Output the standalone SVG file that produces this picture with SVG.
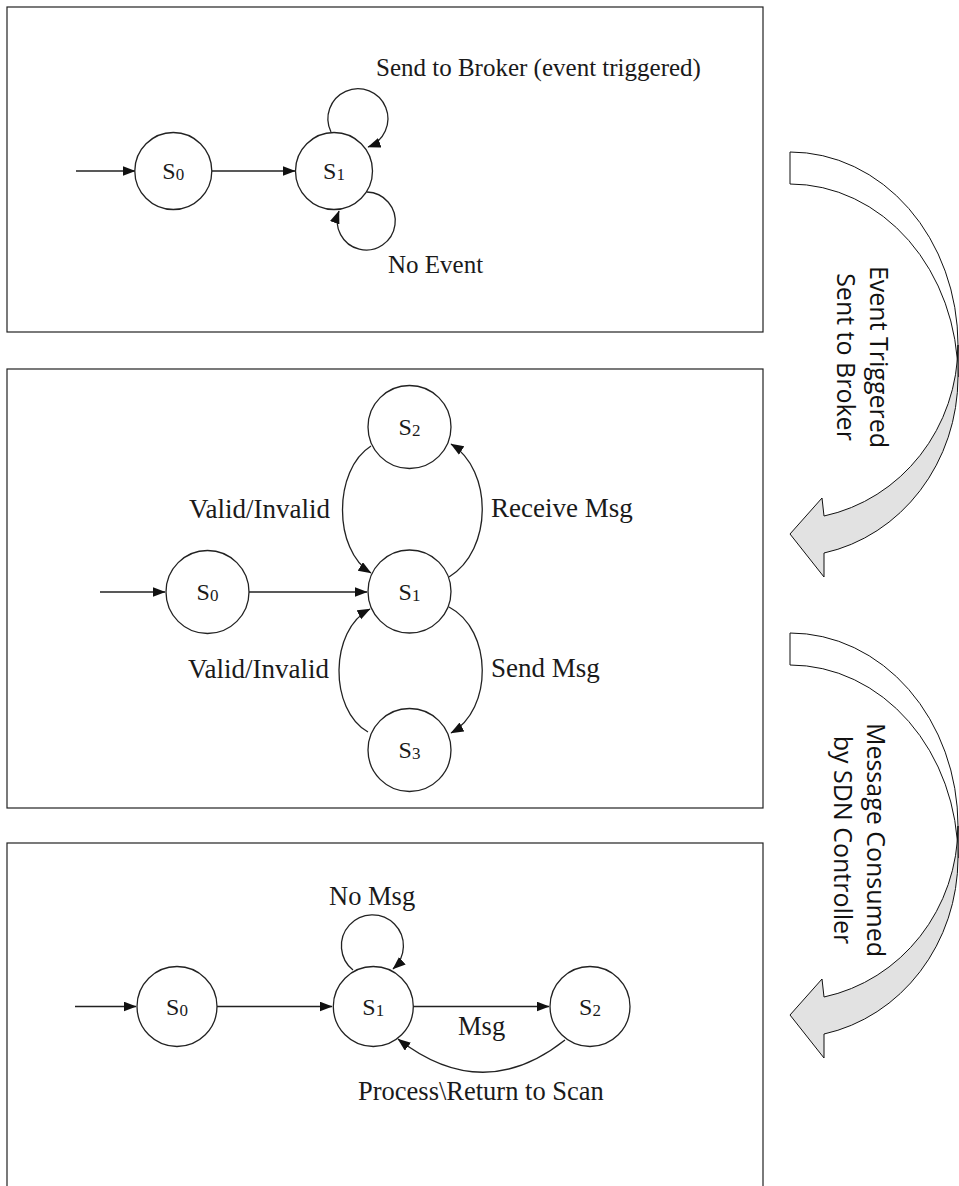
<svg xmlns="http://www.w3.org/2000/svg" width="959" height="1186" viewBox="0 0 959 1186">
<style>
.panel{fill:none;stroke:#222;stroke-width:1.2}
.st{fill:#fff;stroke:#222;stroke-width:1.3}
.ea{fill:none;stroke:#222;stroke-width:1.3;marker-end:url(#ah)}
.lbl{font-family:"Liberation Serif","Times New Roman",serif;fill:#1a1a1a}
.nl{font-family:"Liberation Serif","Times New Roman",serif;font-size:24px;fill:#1a1a1a;text-anchor:middle}
.sub{font-size:17px}
.bw{fill:#fff;stroke:#111;stroke-width:1}
.bg{fill:#e2e2e2;stroke:#111;stroke-width:1}
.at{font-family:"Open Sans","Noto Sans",sans-serif;font-size:25px;fill:#111;text-anchor:middle}
</style>
<defs>
<marker id="ah" markerUnits="userSpaceOnUse" markerWidth="14" markerHeight="12" refX="12.5" refY="5" orient="auto">
<path d="M0,0 L13,5 L0,10 z" fill="#111"/>
</marker>
<g id="curvedArrow">
<path class="bw" d="M790,152 A168,193 0 0 1 958,345 L958,377 A168,193 0 0 0 790,184 Z"/>
<path class="bg" d="M958,345 A168,175 0 0 1 824,516 L822,498 L790,534 L824,577 L824,553 A168,180 0 0 0 958,377 Z"/>
</g>
</defs>

<g id="panels">
<rect id="panel-top" class="panel" x="7" y="7" width="756" height="325"/>
<rect id="panel-middle" class="panel" x="7" y="369" width="756" height="439"/>
<rect id="panel-bottom" class="panel" x="7" y="843" width="756" height="360"/>
</g>

<g id="connectors">
<line class="ea" x1="76" y1="171" x2="135" y2="171"/>
<line class="ea" x1="212" y1="171" x2="295" y2="171"/>
<path class="ea" d="M331,132 A30,30 0 1 1 368,147"/>
<path class="ea" d="M367,192 A29,29 0 1 1 339,211"/>
<line class="ea" x1="100" y1="592" x2="165" y2="592"/>
<line class="ea" x1="249" y1="592" x2="367" y2="592"/>
<path class="ea" d="M371,446 C333,470 333,550 371,573"/>
<path class="ea" d="M449,577 C493,550 493,470 451,444"/>
<path class="ea" d="M368,732 C329,710 329,630 370,609"/>
<path class="ea" d="M449,607 C493,630 493,710 451,733"/>
<line class="ea" x1="75" y1="1006.5" x2="136" y2="1006.5"/>
<line class="ea" x1="217" y1="1006.5" x2="332" y2="1006.5"/>
<line class="ea" x1="413" y1="1006.5" x2="549" y2="1006.5"/>
<path class="ea" d="M353,970 A31,31 0 1 1 393,969"/>
<path class="ea" d="M565,1040 Q483,1105 398,1039"/>
</g>

<g id="top-S0"><circle class="st" cx="173.3" cy="171" r="38.5"/><text class="nl" x="173.3" y="179">S<tspan class="sub" dy="1">0</tspan></text></g>
<g id="top-S1"><circle class="st" cx="334" cy="171" r="38.5"/><text class="nl" x="334" y="179">S<tspan class="sub" dy="1">1</tspan></text></g>

<g id="mid-S0"><circle class="st" cx="207.5" cy="592" r="41.5"/><text class="nl" x="207.5" y="600">S<tspan class="sub" dy="1">0</tspan></text></g>
<g id="mid-S1"><circle class="st" cx="409.5" cy="591.5" r="41.5"/><text class="nl" x="409.5" y="599.5">S<tspan class="sub" dy="1">1</tspan></text></g>
<g id="mid-S2"><circle class="st" cx="409.5" cy="427" r="41.5"/><text class="nl" x="409.5" y="435">S<tspan class="sub" dy="1">2</tspan></text></g>
<g id="mid-S3"><circle class="st" cx="409.5" cy="750" r="41.5"/><text class="nl" x="409.5" y="758">S<tspan class="sub" dy="1">3</tspan></text></g>

<g id="bot-S0"><circle class="st" cx="177" cy="1006.5" r="40"/><text class="nl" x="177" y="1014.5">S<tspan class="sub" dy="1">0</tspan></text></g>
<g id="bot-S1"><circle class="st" cx="373.3" cy="1006.5" r="40"/><text class="nl" x="373.3" y="1014.5">S<tspan class="sub" dy="1">1</tspan></text></g>
<g id="bot-S2"><circle class="st" cx="590" cy="1006.5" r="40"/><text class="nl" x="590" y="1014.5">S<tspan class="sub" dy="1">2</tspan></text></g>

<g id="edge-labels" class="lbl">
<text x="376" y="76" font-size="25">Send to Broker (event triggered)</text>
<text x="388" y="273" font-size="25">No Event</text>
<text x="189" y="518" font-size="27">Valid/Invalid</text>
<text x="491" y="517" font-size="27">Receive Msg</text>
<text x="188" y="678" font-size="27">Valid/Invalid</text>
<text x="491" y="677" font-size="27">Send Msg</text>
<text x="329" y="905" font-size="26.5">No Msg</text>
<text x="458" y="1035" font-size="26.5">Msg</text>
<text x="358" y="1100" font-size="26.5">Process\Return to Scan</text>
</g>

<g id="arrow-event">
<use href="#curvedArrow"/>
<text class="at" transform="translate(870,357) rotate(90)">Event Triggered</text>
<text class="at" transform="translate(837,357) rotate(90)">Sent to Broker</text>
</g>
<g id="arrow-message">
<use href="#curvedArrow" transform="translate(0,481)"/>
<text class="at" transform="translate(867,840) rotate(90)">Message Consumed</text>
<text class="at" transform="translate(834,840) rotate(90)">by SDN Controller</text>
</g>
</svg>
